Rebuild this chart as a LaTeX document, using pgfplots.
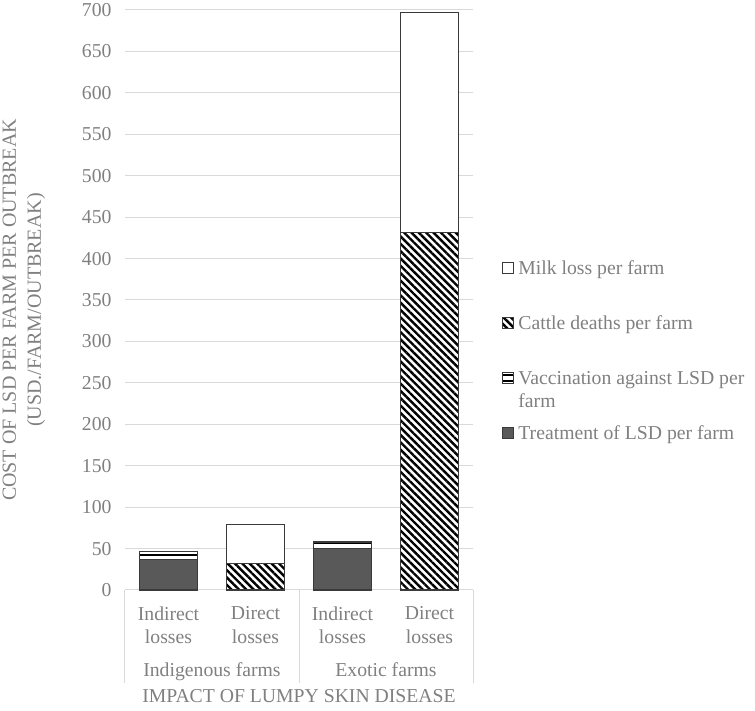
\documentclass[border=0pt]{standalone}
\usepackage{fontspec}
\setmainfont{Liberation Serif}
\usepackage{pgfplots}
\pgfplotsset{compat=1.18}
\usetikzlibrary{patterns.meta}

\definecolor{txt}{HTML}{808080}
\definecolor{grd}{HTML}{D9D9D9}
\definecolor{edge}{HTML}{3A3A3A}
\definecolor{treat}{HTML}{595959}

\newcommand{\lfont}{\fontsize{19.7}{23.5}\selectfont}

\pgfplotsset{
  sqleg/.style={legend image code/.code={\draw[##1] (0pt,-5.5pt) rectangle (11pt,5.5pt);}},
  barbase/.style={draw=edge, line width=1.2pt, sqleg},
}

\begin{document}
\begin{tikzpicture}
\useasboundingbox (-125pt,-121pt) rectangle (630pt,590pt);
\begin{axis}[
    scale only axis,
    width=348pt, height=580pt,
    ybar stacked, bar width=58pt,
    xmin=-0.5, xmax=3.5, ymin=0, ymax=700,
    xtick={0,1,2,3},
    xticklabels={{Indirect\\losses},{Direct\\losses},{Indirect\\losses},{Direct\\losses}},
    ytick={0,50,...,700},
    ymajorgrids,
    major grid style={grd, line width=1pt},
    axis line style={draw=none},
    major tick length=0pt,
    tick label style={font=\lfont, text=txt},
    /pgf/number format/assume math mode=true,
    xticklabel style={align=center, yshift=-13pt},
    yticklabel style={xshift=-10pt},
    clip=false,
    reverse legend,
    legend cell align=left,
    legend style={draw=none, fill=none, inner sep=0pt,
        font=\lfont, text=txt,
        at={(axis description cs:1.0833,0.567)}, anchor=north west,
        nodes={inner sep=0pt, text height=13pt, text depth=0pt},
        row sep=42pt, column sep=4pt},
]

\addplot[barbase, fill=treat] coordinates {(0,37) (1,0) (2,50) (3,0)};
\addlegendentry{Treatment of LSD per farm}

\addplot[barbase, preaction={fill=white}, pattern={Lines[angle=0,distance=6pt,line width=1.5pt]}]
    coordinates {(0,9) (1,0) (2,8) (3,0)};
\addlegendentry{\parbox[t]{240pt}{Vaccination against LSD per\\farm}}

\addplot[barbase, preaction={fill=white}, pattern={Lines[angle=-45,distance=5.2pt,line width=2.4pt]}]
    coordinates {(0,0) (1,32) (2,0) (3,431)};
\addlegendentry{Cattle deaths per farm}

\addplot[barbase, fill=white] coordinates {(0,0) (1,47) (2,0) (3,266)};
\addlegendentry{Milk loss per farm}

% category group separators and labels
\draw[grd, line width=1pt] (axis cs:-0.5,0) -- ([yshift=-93pt]axis cs:-0.5,0);
\draw[grd, line width=1pt] (axis cs:1.5,0) -- ([yshift=-93pt]axis cs:1.5,0);
\draw[grd, line width=1pt] (axis cs:3.5,0) -- ([yshift=-93pt]axis cs:3.5,0);
\node[anchor=base, font=\lfont, text=txt, yshift=-87pt] at (axis cs:0.5,0) {Indigenous farms};
\node[anchor=base, font=\lfont, text=txt, yshift=-87pt] at (axis cs:2.5,0) {Exotic farms};
\node[anchor=base, font=\lfont, text=txt, yshift=-113pt] at (axis cs:1.5,0) {IMPACT OF LUMPY SKIN DISEASE};
\end{axis}

\node[rotate=90, align=center, font=\fontsize{20}{25}\selectfont, text=txt]
    at (-101pt,280pt) {COST OF LSD PER FARM PER OUTBREAK\\(USD./FARM/OUTBREAK)};
\end{tikzpicture}
\end{document}
